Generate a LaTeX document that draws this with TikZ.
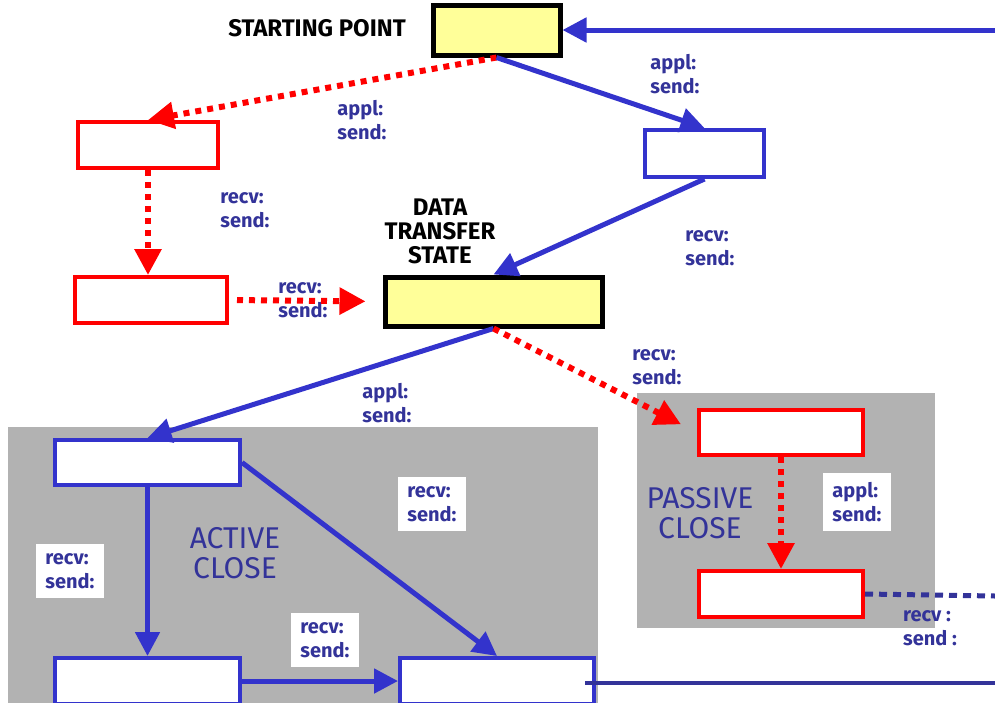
\documentclass[tikz,border=0pt]{standalone}
\usepackage{fontspec}
\setmainfont{Fira Sans}
\usetikzlibrary{arrows.meta}
\definecolor{lnblue}{RGB}{51,51,204}
\definecolor{txblue}{RGB}{51,51,153}
\definecolor{stfill}{RGB}{255,255,153}
\definecolor{zone}{RGB}{178,178,178}
\newcommand{\acol}{lnblue}
\newcommand{\pcol}{red}

\begin{document}
\begin{tikzpicture}[x=0.5pt, y=-0.5pt,
    state/.style={draw=#1, line width=2pt, fill=white, inner sep=0pt},
    tag/.style={text=txblue, font=\bfseries, align=left, inner sep=1pt},
    boxtag/.style={tag, fill=white, inner sep=4.5pt},
    title/.style={font=\fontsize{12}{12}\selectfont\bfseries, align=center, inner sep=0pt},
    zonename/.style={text=txblue, font=\fontsize{15}{15}\selectfont, align=center},
    solid/.style={draw=\acol, line width=2.5pt, -{Triangle[length=12pt, width=12pt]}},
    dots/.style={draw=\pcol, line width=3pt, dash pattern=on 3pt off 3pt,
      -{Triangle[length=13pt, width=13pt]}}]

    \useasboundingbox (0,0) rectangle (995,702);
    \clip (0,0) rectangle (995,702);

    % zones
    \fill[zone] (8,427) rectangle (598,720);
    \fill[zone] (637,393) rectangle (935,628);

    % states
    \node[state=black, line width=2.5pt, fill=stfill, minimum width=63.5pt, minimum height=25pt] (st) at (496.5,30) {};
    \node[state=\pcol, minimum width=70pt, minimum height=23pt] (r1) at (148,145) {};
    \node[state=\acol, minimum width=59.5pt, minimum height=23.5pt] (b1) at (704.5,153.5) {};
    \node[state=\pcol, minimum width=76pt, minimum height=23pt] (r2) at (151,300) {};
    \node[state=black, line width=2.5pt, fill=stfill, minimum width=108.5pt, minimum height=24.5pt] (data) at (493.5,301.5) {};
    \node[state=\acol, minimum width=92.5pt, minimum height=22.5pt] (ac1) at (147.5,462.5) {};
    \node[state=\acol, minimum width=92.5pt, minimum height=23pt] (ac2) at (147.5,681) {};
    \node[state=\acol, minimum width=97pt, minimum height=23pt] (ac3) at (497,681) {};
    \node[state=\pcol, minimum width=82pt, minimum height=22.5pt] (pc1) at (781,432.5) {};
    \node[state=\pcol, minimum width=82pt, minimum height=23pt] (pc2) at (781,594) {};

    \coordinate (in) at (995,30);
    \coordinate (out1) at (995,596);
    \coordinate (out2) at (995,683);
    \coordinate (from3) at (585,683);

    % titles
    \node[title] (t1) at (317,28) {STARTING POINT};
    \node[title] (t2) at (440,231) {DATA\\TRANSFER\\STATE};
    \node[zonename] (z1) at (235,553) {ACTIVE\\CLOSE};
    \node[zonename] (z2) at (700,513) {PASSIVE\\CLOSE};

    % event labels
    \node[tag] (l1) at (362,120) {appl:\\send:};
    \node[tag] (l2) at (675,74) {appl:\\send:};
    \node[tag] (l3) at (245,210) {recv:\\send:};
    \node[tag] (l4) at (710,248) {recv:\\send:};
    \node[tag] (l5) at (303,300) {recv:\\send:};
    \node[tag] (l6) at (657,367) {recv:\\send:};
    \node[tag] (l7) at (387,403) {appl:\\send:};
    \node[tag] (l8) at (930,628) {recv :\\send :};
    \node[boxtag] (l9) at (432,504) {recv:\\send:};
    \node[boxtag] (l10) at (70,571) {recv:\\send:};
    \node[boxtag] (l11) at (325,640) {recv:\\send:};
    \node[boxtag] (l12) at (857,502) {appl:\\send:};

    % transitions
    \draw[solid] (in) -- (st.east);
    \draw[dots] (st.south) -- (r1.north);
    \draw[solid] (st.south) -- (b1.north);
    \draw[dots] (r1.south) -- (r1.south |- r2.north);
    \draw[solid] (b1.south) -- (data.north);
    \draw[dots, shorten <=4pt, shorten >=8.5pt] (r2.east) -- (data.west);
    \draw[solid] (data.south) -- (ac1.north);
    \draw[dots, shorten >=9pt] (data.south) -- (pc1.west);
    \draw[dots] (pc1.south) -- (pc2.north);
    \draw[draw=txblue, line width=2.5pt, dash pattern=on 4pt off 3pt] (pc2.east) -- (out1);
    \draw[solid] (ac1.south) -- (ac2.north);
    \draw[solid] (ac1.east) -- (ac3.north);
    \draw[solid] (ac2.east) -- (ac3.west);
    \draw[draw=txblue, line width=2pt] (from3) -- (out2);

\end{tikzpicture}
\end{document}
